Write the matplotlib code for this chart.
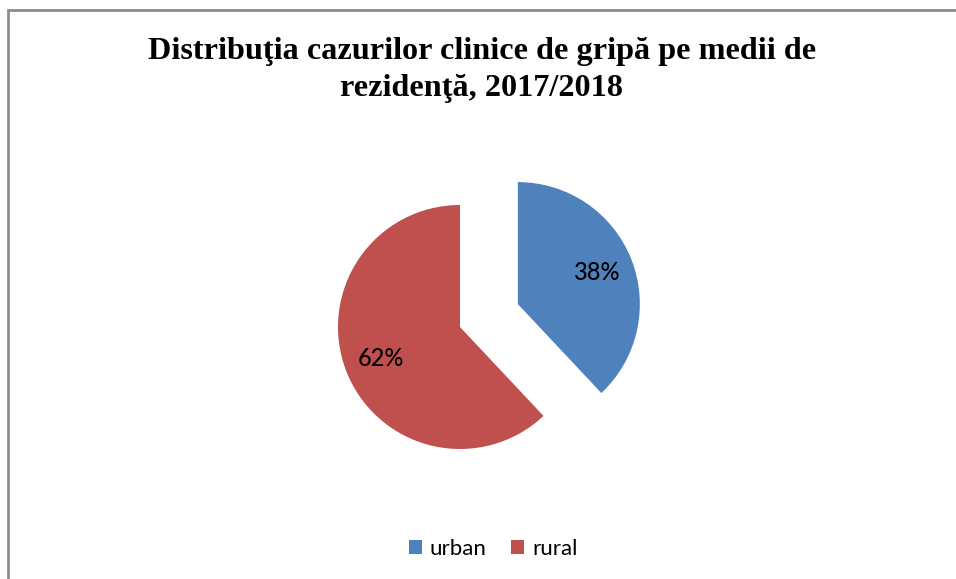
import matplotlib.pyplot as plt
from matplotlib.patches import Rectangle

# date din grafic
categorii = ['urban', 'rural']
procente = [38, 62]
culori = ['#4F81BD', '#C0504D']
titlu = 'Distribuţia cazurilor clinice de gripă pe medii de\nrezidenţă, 2017/2018'

W, H = 956, 579
fig = plt.figure(figsize=(W / 100, H / 100), dpi=100)

# chenarul graficului (iese din imagine la dreapta si jos)
fig.patches.append(Rectangle((8 / W, -0.05), 1.2, 1 - 10 / H + 0.05,
                             transform=fig.transFigure, fill=False,
                             edgecolor='#8c8c8c', linewidth=2))

ax = fig.add_axes([0, 0, 1, 1])
wedges, texts, autotexts = ax.pie(procente, colors=culori, startangle=90,
                                  counterclock=False, explode=[0.51, 0],
                                  autopct='%1.0f%%', pctdistance=0.7,
                                  radius=1, wedgeprops=dict(linewidth=0))
for t in autotexts:
    t.set_fontfamily('Lato')
    t.set_fontsize(17)
    t.set_fontweight('medium')
    t.set_color('black')

# centrul pie in pixeli: (460, 327), raza 122 px
r = 122
ax.set_xlim(-460 / r, (W - 460) / r)
ax.set_ylim(-(H - 327) / r, 327 / r)
ax.axis('off')

fig.text(0.504, 1 - 70 / H, titlu, ha='center', va='center',
         fontfamily='Liberation Serif', fontweight='bold', fontsize=23.2,
         linespacing=1.32)

fig.legend(wedges, categorii, loc='center', bbox_to_anchor=(493 / W, 1 - 549 / H),
           ncol=2, frameon=False, prop={'family': 'Lato', 'size': 16},
           handlelength=0.6, handleheight=0.6, handletextpad=0.35,
           columnspacing=1.1, borderpad=0)

fig.savefig('out.png', dpi=100)
